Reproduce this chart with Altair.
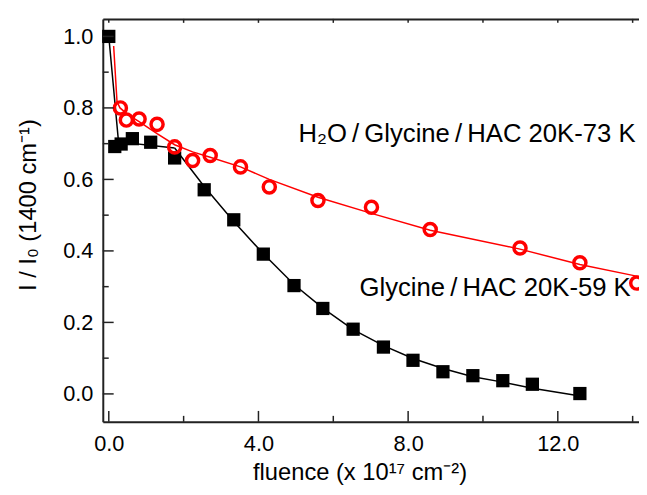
import altair as alt
import pandas as pd

# ---- data ----
# Glycine/HAC 20K-59 K (black squares)
gly_x = [0.0, 0.16, 0.33, 0.63, 1.12, 1.76, 2.55, 3.34, 4.13, 4.95, 5.72, 6.53, 7.34, 8.13, 8.93, 9.73, 10.53, 11.32, 12.59]
gly_y = [1.0, 0.692, 0.699, 0.714, 0.704, 0.660, 0.571, 0.487, 0.391, 0.303, 0.239, 0.181, 0.131, 0.094, 0.062, 0.051, 0.037, 0.027, 0.001]

# H2O/Glycine/HAC 20K-73 K (red open circles)
h2o_x = [0.31, 0.47, 0.81, 1.29, 1.76, 2.24, 2.71, 3.52, 4.29, 5.59, 7.02, 8.59, 10.99, 12.59, 14.11]
h2o_y = [0.800, 0.766, 0.769, 0.754, 0.691, 0.653, 0.667, 0.635, 0.579, 0.541, 0.522, 0.460, 0.408, 0.367, 0.310]

# fit curves
gly_fit_x = [0.0, 0.26, 1.76, 1.76, 2.55, 3.34, 4.13, 4.95, 5.72, 6.53, 7.34, 8.13, 8.93, 9.73, 10.53, 11.32, 12.6]
gly_fit_y = [1.0, 0.705, 0.688, 0.688, 0.580, 0.482, 0.392, 0.306, 0.240, 0.180, 0.135, 0.099, 0.071, 0.048, 0.033, 0.016, -0.006]
gly_fit_seg = ["a", "a", "a", "b", "b", "b", "b", "b", "b", "b", "b", "b", "b", "b", "b", "b", "b"]

h2o_fit_x = [0.13, 0.22, 0.30, 0.50, 0.80, 1.29, 1.76, 2.24, 2.71, 3.52, 4.29, 5.59, 7.02, 8.59, 10.99, 12.59, 14.17]
h2o_fit_y = [0.973, 0.817, 0.800, 0.782, 0.762, 0.728, 0.697, 0.677, 0.662, 0.635, 0.600, 0.550, 0.505, 0.458, 0.405, 0.362, 0.328]

# axis ticks
x_major = [0, 4, 8, 12]
x_minor = [2, 6, 10, 14]
y_major = [0.0, 0.2, 0.4, 0.6, 0.8, 1.0]
y_minor = [0.1, 0.3, 0.5, 0.7, 0.9]

# annotations
ann_text = ["H\u2082O\u2009/\u2009Glycine\u2009/\u2009HAC 20K-73 K", "Glycine\u2009/\u2009HAC 20K-59 K"]
ann_x = [5.07, 6.70]
ann_y = [0.706, 0.273]

X_DOMAIN = [-0.16, 14.17]
Y_DOMAIN = [-0.078, 1.049]
W, H = 543, 408
FONT = "Liberation Sans"

xs = alt.Scale(domain=X_DOMAIN, nice=False, zero=False)
ys = alt.Scale(domain=Y_DOMAIN, nice=False, zero=False)

gly = pd.DataFrame({"x": gly_x, "y": gly_y})
h2o = pd.DataFrame({"x": h2o_x, "y": h2o_y})
gfit = pd.DataFrame({"x": gly_fit_x, "y": gly_fit_y, "seg": gly_fit_seg})
hfit = pd.DataFrame({"x": h2o_fit_x, "y": h2o_fit_y})

xaxis = alt.Axis(values=x_major, format=".1f", ticks=False, grid=False,
                 domainColor="#222222", domainWidth=2,
                 labelFont=FONT, labelFontSize=22, labelColor="black", labelPadding=12,
                 title="fluence (x 10\u00b9\u2077 cm\u207b\u00b2)", titleFont=FONT, titleFontSize=24,
                 titleFontWeight="normal", titleColor="black", titleX=260, titleY=58,
                 titleBaseline="alphabetic")
yaxis = alt.Axis(values=y_major, format=".1f", ticks=False, grid=False,
                 domainColor="#222222", domainWidth=2,
                 labelFont=FONT, labelFontSize=22, labelColor="black", labelPadding=10,
                 title="I / I\u2080 (1400 cm\u207b\u00b9)", titleFont=FONT, titleFontSize=24,
                 titleFontWeight="normal", titleColor="black", titleX=-63, titleY=188)

X = lambda ax=xaxis: alt.X("x:Q", scale=xs, axis=ax)
Y = lambda: alt.Y("y:Q", scale=ys, axis=yaxis)

gline = alt.Chart(gfit).mark_line(color="black", strokeWidth=1.5).encode(
    x=X(), y=Y(), detail="seg:N")
hline = alt.Chart(hfit).mark_line(color="#ff0000", strokeWidth=1.5).encode(x=X(), y=Y())
gpts = alt.Chart(gly).mark_square(color="black", size=180, opacity=1).encode(x=X(), y=Y())
hpts = alt.Chart(h2o).mark_point(shape="circle", color="#ff0000", filled=False,
                                 size=150, strokeWidth=3.5, opacity=1).encode(x=X(), y=Y())

ymaj = alt.Chart(pd.DataFrame({"y": y_major})).mark_rule(color="#222222", strokeWidth=1.5).encode(
    y=Y(), x=alt.value(0), x2=alt.value(11))
ymin = alt.Chart(pd.DataFrame({"y": y_minor})).mark_rule(color="#222222", strokeWidth=1.5).encode(
    y=Y(), x=alt.value(0), x2=alt.value(6))
xmaj = alt.Chart(pd.DataFrame({"x": x_major})).mark_rule(color="#222222", strokeWidth=1.5).encode(
    x=X(), y=alt.value(H), y2=alt.value(H - 11))
xmin = alt.Chart(pd.DataFrame({"x": x_minor})).mark_rule(color="#222222", strokeWidth=1.5).encode(
    x=X(), y=alt.value(H), y2=alt.value(H - 6))

ann = alt.Chart(pd.DataFrame({"t": ann_text, "x": ann_x, "y": ann_y})).mark_text(
    font=FONT, fontSize=26, align="left", baseline="alphabetic", color="black").encode(
    x=X(), y=Y(), text="t:N")

main = alt.layer(gline, hline, gpts, hpts, ymaj, ymin, xmaj, xmin, ann)

topaxis = alt.Axis(orient="top", labels=False, ticks=False, grid=False, title=None,
                   domainColor="#222222", domainWidth=2)
top_ticks = alt.Chart(pd.DataFrame({"x": x_major + x_minor})).mark_rule(
    color="#222222", strokeWidth=1.5).encode(
    x=alt.X("x:Q", scale=xs, axis=topaxis), y=alt.value(0), y2=alt.value(4))

chart = alt.layer(main, top_ticks).resolve_axis(x="independent").properties(
    width=W, height=H,
    autosize=alt.AutoSizeParams(type="none"),
    padding={"left": 96, "top": 8, "right": 0, "bottom": 63},
).configure_view(stroke=None).configure(background="white")

chart.save("out.html", embed_options={"renderer": "svg", "actions": False})
